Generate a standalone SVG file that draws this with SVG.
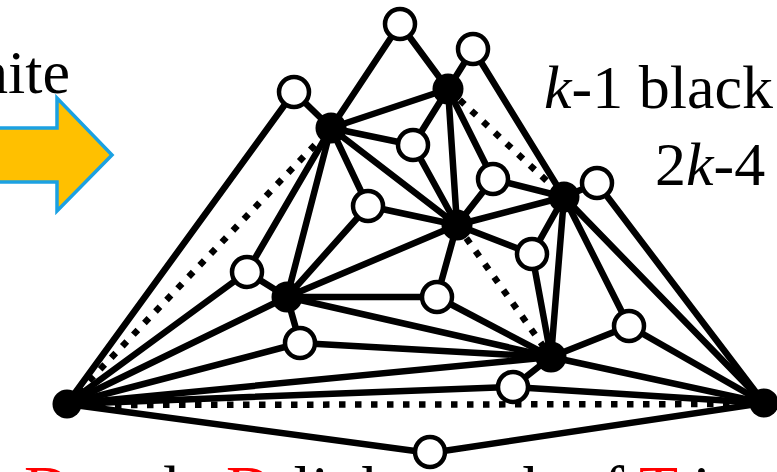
<svg xmlns="http://www.w3.org/2000/svg" width="777" height="472" viewBox="0 0 777 472">
<style>
.e{stroke:#000;stroke-width:6.5;fill:none;stroke-linecap:round}
.d{stroke:#000;stroke-width:6.5;fill:none;stroke-dasharray:6.5 9.5}
.b{fill:#000}
.w{fill:#fff;stroke:#000;stroke-width:4.5}
.t{font-family:"Liberation Serif","Times New Roman",serif;font-size:62px;fill:#000}
.cap{font-family:"Liberation Serif","Times New Roman",serif;font-size:64px;fill:#000}
.red{fill:#FF0000}
</style>
<rect width="777" height="472" fill="#fff"/>
<g id="arrow">
<path d="M-10,128 H57 V98 L112,155 L57,211 V182 H-10 Z" fill="#FFC000" stroke="#1BA1E2" stroke-width="3.5" stroke-linejoin="miter"/>
</g>
<g id="labels">
<text class="t" x="70" y="93" text-anchor="end">hite</text>
<text class="t" x="544" y="108"><tspan font-style="italic">k</tspan>-1 black</text>
<text class="t" x="655" y="185">2<tspan font-style="italic">k</tspan>-4</text>
<text class="cap" x="24" y="510"><tspan class="red">D</tspan> and</text>
<text class="cap" x="226" y="510"><tspan class="red">D</tspan>-link graph of <tspan class="red">T</tspan> is</text>
</g>
<g id="connectors">
<line class="d" x1="67" y1="404" x2="331" y2="128"/>
<line class="d" x1="67" y1="405" x2="764" y2="404"/>
<line class="d" x1="448" y1="89" x2="564" y2="197"/>
<line class="d" x1="457" y1="225" x2="551" y2="357"/>
<line class="e" x1="67" y1="404" x2="294" y2="92"/>
<line class="e" x1="67" y1="404" x2="247" y2="272"/>
<line class="e" x1="67" y1="404" x2="287" y2="297"/>
<line class="e" x1="67" y1="404" x2="300" y2="343"/>
<line class="e" x1="67" y1="404" x2="551" y2="357"/>
<line class="e" x1="67" y1="404" x2="513" y2="387"/>
<line class="e" x1="67" y1="404" x2="430" y2="453"/>
<line class="e" x1="764" y1="403" x2="430" y2="453"/>
<line class="e" x1="764" y1="403" x2="513" y2="387"/>
<line class="e" x1="764" y1="403" x2="551" y2="357"/>
<line class="e" x1="764" y1="403" x2="629" y2="326"/>
<line class="e" x1="764" y1="403" x2="564" y2="197"/>
<line class="e" x1="764" y1="403" x2="597" y2="183"/>
<line class="e" x1="400" y1="24" x2="331" y2="128"/>
<line class="e" x1="400" y1="24" x2="448" y2="89"/>
<line class="e" x1="473" y1="49" x2="448" y2="89"/>
<line class="e" x1="473" y1="49" x2="564" y2="197"/>
<line class="e" x1="294" y1="92" x2="331" y2="128"/>
<line class="e" x1="331" y1="128" x2="448" y2="89"/>
<line class="e" x1="331" y1="128" x2="413" y2="145"/>
<line class="e" x1="331" y1="128" x2="457" y2="225"/>
<line class="e" x1="331" y1="128" x2="368" y2="206"/>
<line class="e" x1="331" y1="128" x2="287" y2="297"/>
<line class="e" x1="331" y1="128" x2="247" y2="272"/>
<line class="e" x1="413" y1="145" x2="448" y2="89"/>
<line class="e" x1="413" y1="145" x2="457" y2="225"/>
<line class="e" x1="448" y1="89" x2="457" y2="225"/>
<line class="e" x1="448" y1="89" x2="493" y2="179"/>
<line class="e" x1="493" y1="179" x2="457" y2="225"/>
<line class="e" x1="493" y1="179" x2="564" y2="197"/>
<line class="e" x1="368" y1="206" x2="457" y2="225"/>
<line class="e" x1="368" y1="206" x2="287" y2="297"/>
<line class="e" x1="247" y1="272" x2="287" y2="297"/>
<line class="e" x1="287" y1="297" x2="300" y2="343"/>
<line class="e" x1="287" y1="297" x2="457" y2="225"/>
<line class="e" x1="287" y1="297" x2="437" y2="297"/>
<line class="e" x1="287" y1="297" x2="551" y2="357"/>
<line class="e" x1="300" y1="343" x2="551" y2="357"/>
<line class="e" x1="437" y1="297" x2="457" y2="225"/>
<line class="e" x1="437" y1="297" x2="551" y2="357"/>
<line class="e" x1="457" y1="225" x2="532" y2="254"/>
<line class="e" x1="457" y1="225" x2="564" y2="197"/>
<line class="e" x1="564" y1="197" x2="532" y2="254"/>
<line class="e" x1="564" y1="197" x2="551" y2="357"/>
<line class="e" x1="564" y1="197" x2="629" y2="326"/>
<line class="e" x1="564" y1="197" x2="597" y2="183"/>
<line class="e" x1="532" y1="254" x2="551" y2="357"/>
<line class="e" x1="629" y1="326" x2="551" y2="357"/>
<line class="e" x1="513" y1="387" x2="551" y2="357"/>
</g>
<g id="nL"><circle class="b" cx="67" cy="404" r="14.5"/></g>
<g id="nR"><circle class="b" cx="764" cy="403" r="14.5"/></g>
<g id="nA"><circle class="b" cx="331" cy="128" r="15.5"/></g>
<g id="nB"><circle class="b" cx="448" cy="89" r="15.5"/></g>
<g id="nC"><circle class="b" cx="457" cy="225" r="15.5"/></g>
<g id="nD"><circle class="b" cx="564" cy="197" r="15.5"/></g>
<g id="nE"><circle class="b" cx="287" cy="297" r="15.5"/></g>
<g id="nF"><circle class="b" cx="551" cy="357" r="15.5"/></g>
<g id="w1"><circle class="w" cx="400" cy="24" r="15"/></g>
<g id="w2"><circle class="w" cx="473" cy="49" r="15"/></g>
<g id="w3"><circle class="w" cx="294" cy="92" r="15"/></g>
<g id="w4"><circle class="w" cx="413" cy="145" r="15"/></g>
<g id="w5"><circle class="w" cx="493" cy="179" r="15"/></g>
<g id="w6"><circle class="w" cx="368" cy="206" r="15"/></g>
<g id="w7"><circle class="w" cx="532" cy="254" r="15"/></g>
<g id="w8"><circle class="w" cx="247" cy="272" r="15"/></g>
<g id="w9"><circle class="w" cx="437" cy="297" r="15"/></g>
<g id="w10"><circle class="w" cx="629" cy="326" r="15"/></g>
<g id="w11"><circle class="w" cx="300" cy="343" r="15"/></g>
<g id="w12"><circle class="w" cx="513" cy="387" r="15"/></g>
<g id="w13"><circle class="w" cx="430" cy="452" r="15"/></g>
<g id="w14"><circle class="w" cx="597" cy="183" r="15"/></g>
</svg>
